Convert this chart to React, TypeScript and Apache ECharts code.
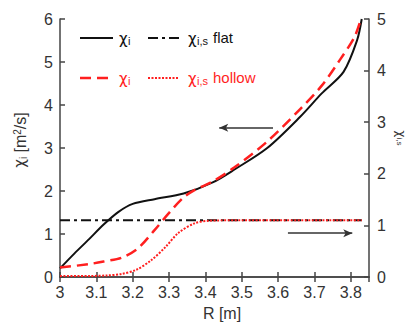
import React, { useEffect, useRef } from "react";
import * as echarts from "echarts";

// Major radius R [m] and transport coefficients
const rFlatChi = [3.0, 3.04, 3.08, 3.12, 3.16, 3.2, 3.26, 3.34, 3.42, 3.48, 3.57, 3.66, 3.72, 3.78, 3.817, 3.83];
const chiFlat = [0.2, 0.55, 0.88, 1.22, 1.51, 1.7, 1.81, 1.94, 2.2, 2.5, 3.0, 3.72, 4.27, 4.77, 5.5, 6.0];

const rHollowChi = [3.0, 3.08, 3.12, 3.17, 3.215, 3.26, 3.3, 3.34, 3.37, 3.42, 3.48, 3.57, 3.66, 3.72, 3.77, 3.81, 3.828];
const chiHollow = [0.22, 0.3, 0.36, 0.45, 0.67, 1.09, 1.49, 1.85, 2.02, 2.22, 2.55, 3.15, 3.9, 4.45, 5.05, 5.58, 6.0];

const rFlatS = [3.0, 3.83];
const chiSFlat = [1.1, 1.1];

const rHollowS = [3.0, 3.08, 3.13, 3.17, 3.21, 3.25, 3.29, 3.325, 3.37, 3.41, 3.5, 3.83];
const chiSHollow = [0.02, 0.02, 0.03, 0.06, 0.14, 0.32, 0.58, 0.85, 1.04, 1.09, 1.1, 1.1];

// Arrow annotations (left-axis units): [x0, x1, y]
const arrowLeft = [3.586, 3.438, 3.47];
const arrowRight = [3.627, 3.804, 1.02];

const pairs = (xs: number[], ys: number[]) => xs.map((x, i) => [x, ys[i]]);

const FONT = "'Liberation Sans', Arial, sans-serif";
const GREEK = "'DejaVu Sans', sans-serif";
const AXIS = "#444";
const TXT = "#333";
const RED = "#ff1f1f";
const BLACK = "#111";

export default function App() {
  const ref = useRef<HTMLDivElement>(null);

  useEffect(() => {
    if (!ref.current) return;
    const chart = echarts.init(ref.current, null, { renderer: "svg" });

    const axisLabel = { fontFamily: FONT, fontSize: 16, color: TXT };
    const tick = { show: true, inside: true, length: 5, lineStyle: { color: AXIS, width: 1.5 } };
    const line = { show: true, lineStyle: { color: AXIS, width: 1.5 } };

    const legendRow = (
      y: number,
      color: string,
      type1: any,
      w1: number,
      type2: any,
      w2: number,
      tag: string
    ) => [
      { type: "line", shape: { x1: 80, y1: y, x2: 113, y2: y }, style: { stroke: color, lineWidth: w1, lineDash: type1 } },
      { type: "text", x: 119, y: y + 0.5, style: { text: "χ", font: `15px ${GREEK}`, fill: color, verticalAlign: "middle" } },
      { type: "text", x: 128, y: y + 3, style: { text: "i", font: `11px ${FONT}`, fill: color, verticalAlign: "middle" } },
      { type: "line", shape: { x1: 148, y1: y, x2: 179, y2: y }, style: { stroke: color, lineWidth: w2, lineDash: type2 } },
      { type: "text", x: 188, y: y + 0.5, style: { text: "χ", font: `15px ${GREEK}`, fill: color, verticalAlign: "middle" } },
      { type: "text", x: 197, y: y + 3, style: { text: "i,s", font: `11px ${FONT}`, fill: color, verticalAlign: "middle" } },
      { type: "text", x: 213, y: y - 0.5, style: { text: tag, font: `15px ${FONT}`, fill: color, verticalAlign: "middle" } },
    ];

    chart.setOption({
      animation: false,
      backgroundColor: "#fff",
      grid: { left: 60, right: 40, top: 19, bottom: 45 },
      xAxis: [
        {
          type: "value",
          min: 3,
          max: 3.85,
          interval: 0.1,
          position: "bottom",
          axisLine: line,
          axisTick: tick,
          splitLine: { show: false },
          axisLabel: {
            ...axisLabel,
            margin: 7,
            showMaxLabel: false,
            formatter: (v: number) => String(Math.round(v * 10) / 10),
          },
        },
        {
          type: "value",
          min: 3,
          max: 3.85,
          interval: 0.1,
          position: "top",
          axisLine: line,
          axisTick: tick,
          splitLine: { show: false },
          axisLabel: { show: false },
        },
      ],
      yAxis: [
        {
          type: "value",
          min: 0,
          max: 6,
          interval: 1,
          position: "left",
          axisLine: line,
          axisTick: tick,
          splitLine: { show: false },
          axisLabel: { ...axisLabel, margin: 7 },
        },
        {
          type: "value",
          min: 0,
          max: 5,
          interval: 1,
          position: "right",
          axisLine: line,
          axisTick: tick,
          splitLine: { show: false },
          axisLabel: { ...axisLabel, margin: 8 },
        },
      ],
      series: [
        {
          type: "line",
          name: "chi flat",
          yAxisIndex: 0,
          data: pairs(rFlatChi, chiFlat),
          smooth: 0.3,
          showSymbol: false,
          lineStyle: { color: BLACK, width: 2 },
          markLine: {
            silent: true,
            symbol: ["none", "arrow"],
            symbolSize: [6, 9],
            label: { show: false },
            lineStyle: { color: "#333", width: 1.5, type: "solid" },
            data: [
              [{ coord: [arrowLeft[0], arrowLeft[2]] }, { coord: [arrowLeft[1], arrowLeft[2]] }],
              [{ coord: [arrowRight[0], arrowRight[2]] }, { coord: [arrowRight[1], arrowRight[2]] }],
            ],
          },
        },
        {
          type: "line",
          name: "chi_s flat",
          yAxisIndex: 1,
          data: pairs(rFlatS, chiSFlat),
          showSymbol: false,
          lineStyle: { color: BLACK, width: 2, type: [10, 4, 3, 4] },
        },
        {
          type: "line",
          name: "chi_s hollow",
          yAxisIndex: 1,
          data: pairs(rHollowS, chiSHollow),
          smooth: 0.3,
          showSymbol: false,
          lineStyle: { color: RED, width: 2, type: [2, 1.5] },
        },
        {
          type: "line",
          name: "chi hollow",
          yAxisIndex: 0,
          data: pairs(rHollowChi, chiHollow),
          smooth: 0.3,
          showSymbol: false,
          lineStyle: { color: RED, width: 2.5, type: [11, 6] },
        },
      ],
      graphic: [
        ...legendRow(38, BLACK, null, 2, [10, 4, 3, 4], 2, "flat"),
        ...legendRow(78, RED, [11, 6], 2.5, [2, 1.5], 2, "hollow"),
        {
          type: "text",
          x: 222,
          y: 313,
          style: { text: "R [m]", font: `16px ${FONT}`, fill: TXT, align: "center", verticalAlign: "middle" },
        },
        {
          type: "text",
          x: 20,
          y: 140,
          rotation: Math.PI / 2,
          style: {
            text: "{g|χ}{sub|i} [m{sup|2}/s]",
            font: `16px ${FONT}`,
            fill: TXT,
            align: "center",
            verticalAlign: "middle",
            rich: {
              g: { fontSize: 15, fontFamily: GREEK, fill: TXT },
              sub: { fontSize: 10, fontFamily: FONT, fill: TXT, verticalAlign: "bottom" },
              sup: { fontSize: 10, fontFamily: FONT, fill: TXT, verticalAlign: "top" },
            },
          },
        },
        {
          type: "text",
          x: 401,
          y: 138,
          rotation: -Math.PI / 2,
          style: {
            text: "{g|χ}{sub|i,s}",
            font: `12px ${FONT}`,
            fill: TXT,
            align: "center",
            verticalAlign: "middle",
            rich: {
              g: { fontSize: 12, fontFamily: GREEK, fill: TXT },
              sub: { fontSize: 8, fontFamily: FONT, fill: TXT, verticalAlign: "bottom" },
            },
          },
        },
      ],
    });

    return () => chart.dispose();
  }, []);

  return (
    <div
      ref={ref}
      style={{ position: "fixed", left: 0, top: 0, width: 409, height: 322, background: "#fff" }}
    />
  );
}
